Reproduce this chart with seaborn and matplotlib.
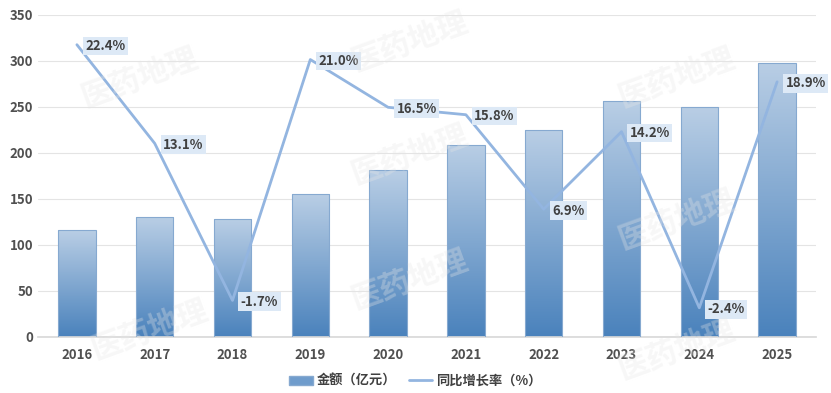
import numpy as np
import pandas as pd
import matplotlib
matplotlib.use("Agg")
import matplotlib.pyplot as plt
from matplotlib.colors import LinearSegmentedColormap
from matplotlib.patches import Patch
from matplotlib.lines import Line2D
import seaborn as sns

# data
years = ["2016", "2017", "2018", "2019", "2020", "2021", "2022", "2023", "2024", "2025"]
amount = [116, 130, 128, 155, 181, 209, 225, 256, 250, 298]
growth = [22.4, 13.1, -1.7, 21.0, 16.5, 15.8, 6.9, 14.2, -2.4, 18.9]

sns.set_theme(style="white")
plt.rcParams['font.family'] = ['Noto Sans CJK SC', 'DejaVu Sans']

df = pd.DataFrame({"year": years, "amount": amount, "growth": growth})

fig = plt.figure(figsize=(8.31, 3.93), dpi=100)
ax = fig.add_axes([38/831, 56/393, 778/831, 322/393])

sns.barplot(data=df, x="year", y="amount", ax=ax, width=0.48,
            color="#7aa6d4", edgecolor="#86a9d0", linewidth=0.8)

# gradient fill for the bars
cmap = LinearSegmentedColormap.from_list("bar", ["#4a82bc", "#b9cee5"])
grad = np.linspace(0, 1, 256).reshape(-1, 1)
for p in ax.patches:
    x0, y0 = p.get_x(), p.get_y()
    w, h = p.get_width(), p.get_height()
    im = ax.imshow(grad, cmap=cmap, extent=[x0, x0 + w, y0, y0 + h],
                   origin="lower", aspect="auto", zorder=2.5)
    im.set_clip_path(p)
    p.set_facecolor("none")
    p.set_zorder(3)

ax.set_xlim(-0.5, len(years) - 0.5)
ax.set_ylim(0, 350)
ax.set_yticks(range(0, 351, 50))
ax.yaxis.grid(True, color="#e4e4e4", linewidth=0.8)
ax.set_axisbelow(True)
for s in ["top", "right", "left"]:
    ax.spines[s].set_visible(False)
ax.spines["bottom"].set_color("#d9d9d9")
ax.set_xlabel("")
ax.set_ylabel("")
ax.tick_params(axis="both", length=0, labelsize=9.5, labelcolor="#505050")
ax.tick_params(axis="x", pad=8)
for t in ax.get_xticklabels() + ax.get_yticklabels():
    t.set_fontweight("bold")

# growth line on a hidden second axis
ax2 = ax.twinx()
sns.lineplot(x=np.arange(len(years)), y=df["growth"], ax=ax2,
             color="#93b5e0", linewidth=2, zorder=4)
ax2.set_ylim(-5.15, 25.2)
ax2.set_yticks([])
ax2.set_ylabel("")
for s in ax2.spines.values():
    s.set_visible(False)

for i, v in enumerate(growth):
    ax2.annotate(f"{v:.1f}%", (i, v), xytext=(6, -1), textcoords="offset points",
                 ha="left", va="center", fontsize=9.5, fontweight="bold",
                 color="#404040", zorder=5,
                 bbox=dict(boxstyle="square,pad=0.18", fc="#dde9f6", ec="none"))

# watermark
marks = [(140, 78), (150, 330), (410, 42), (410, 155), (410, 280),
         (677, 78), (677, 220), (677, 350)]
for mx, my in marks:
    fig.text(mx / 831, 1 - my / 393, "医药地理", fontsize=22, fontweight="bold",
             rotation=20, color="#e6e6e6", alpha=0.32, ha="center", va="center",
             zorder=10)

handles = [Patch(facecolor="#6f9ccc", edgecolor="#86a9d0"),
           Line2D([0], [0], color="#93b5e0", linewidth=2)]
fig.legend(handles, ["金额（亿元）", "同比增长率（%）"], loc="center",
           bbox_to_anchor=(0.5, 1 - 381/393), ncol=2, frameon=False,
           prop=dict(size=9.5, weight="bold"), handlelength=1.8,
           handleheight=0.7, handletextpad=0.3, columnspacing=0.9,
           labelcolor="#404040")

fig.savefig("out.png", dpi=100)
